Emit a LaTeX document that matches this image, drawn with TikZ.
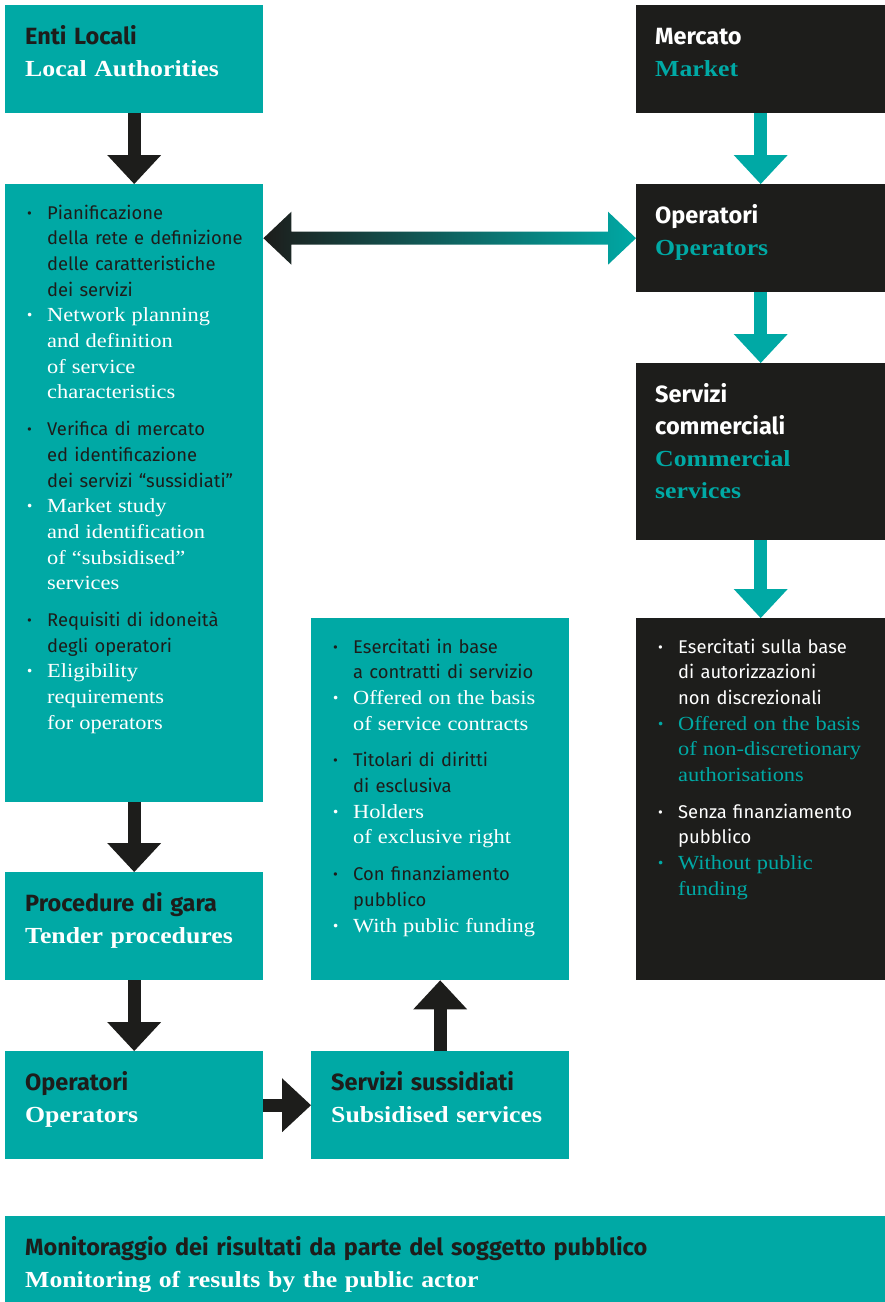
\documentclass[tikz,border=0pt]{standalone}
\usepackage{fontspec}
\setmainfont{Liberation Serif}[FakeStretch=1.12]
\newfontfamily\itf{Fira Sans}
\usetikzlibrary{positioning,arrows.meta}

\definecolor{tl}{HTML}{00A9A5}
\definecolor{ink}{HTML}{1D1D1B}
\definecolor{midg}{HTML}{628583}
\colorlet{itc}{ink}
\colorlet{enc}{white}

% list lines: bullet line / continued line, italian / english
\newcommand\bul{\makebox[20pt][l]{\raisebox{.05em}{\scalebox{.8}{\itf\textbullet}}}}
\newcommand\ib[1]{{\itf\color{itc}\bul#1}}
\newcommand\ic[1]{{\itf\color{itc}\hspace*{20pt}#1}}
\newcommand\eb[1]{{\fontsize{20}{25.7}\selectfont\color{enc}\bul#1}}
\newcommand\ec[1]{{\fontsize{20}{25.7}\selectfont\color{enc}\hspace*{20pt}#1}}
\newcommand\hit[1]{{\itf\bfseries\fontsize{23.5}{32}\selectfont\color{itc}#1}}
\newcommand\het[1]{{\bfseries\color{enc}#1}}

\begin{document}
\begin{tikzpicture}[x=1pt, y=-1pt,
    tealbox/.style={fill=tl, inner sep=0pt, anchor=north west},
    darkbox/.style={fill=ink, inner sep=0pt, anchor=north west},
    headtxt/.style={inner sep=0pt, anchor=base west, text width=250pt, align=left,
        font=\fontsize{23}{32}\selectfont},
    listtxt/.style={inner sep=0pt, anchor=base west, text width=240pt, align=left,
        font=\fontsize{18.4}{25.7}\selectfont},
    ondark/.style={execute at begin node={\colorlet{itc}{white}\colorlet{enc}{tl}}},
    darrow/.style={ink, line width=13pt, -{Triangle[width=54pt,length=29pt,line width=0pt]}},
    tarrow/.style={darrow, tl}
    ]
    \useasboundingbox (0,0) rectangle (885,1302);

    % left column
    \node [tealbox, minimum width=258pt, minimum height=108pt] (enti) at (5,5) {};
    \node [tealbox, minimum width=258pt, minimum height=618pt] (plan) at (5,184) {};
    \node [tealbox, minimum width=258pt, minimum height=108pt] (gara) at (5,872) {};
    \node [tealbox, minimum width=258pt, minimum height=108pt] (opl) at (5,1051) {};

    % middle column
    \node [tealbox, minimum width=258pt, minimum height=362pt] (sub) at (311,618) {};
    \node [tealbox, minimum width=258pt, minimum height=108pt] (sus) at (311,1051) {};

    % right column
    \node [darkbox, minimum width=249pt, minimum height=108pt] (merc) at (636,5) {};
    \node [darkbox, minimum width=249pt, minimum height=108pt] (opr) at (636,184) {};
    \node [darkbox, minimum width=249pt, minimum height=177pt] (comm) at (636,363) {};
    \node [darkbox, minimum width=249pt, minimum height=362pt] (nond) at (636,618) {};

    % bottom bar
    \node [tealbox, minimum width=880pt, minimum height=86pt] (mon) at (5,1216) {};

    % texts
    \node [headtxt] (entiT) at ([shift={(20,39)}]enti.north west)
        {\hit{Enti Locali}\\\het{Local Authorities}};
    \node [headtxt] (garaT) at ([shift={(20,39)}]gara.north west)
        {\hit{Procedure di gara}\\\het{Tender procedures}};
    \node [headtxt] (oplT) at ([shift={(20,39)}]opl.north west)
        {\hit{Operatori}\\\het{Operators}};
    \node [headtxt] (susT) at ([shift={(20,39)}]sus.north west)
        {\hit{Servizi sussidiati}\\\het{Subsidised services}};
    \node [headtxt, ondark] (mercT) at ([shift={(19,39)}]merc.north west)
        {\hit{Mercato}\\\het{Market}};
    \node [headtxt, ondark] (oprT) at ([shift={(19,39)}]opr.north west)
        {\hit{Operatori}\\\het{Operators}};
    \node [headtxt, ondark] (commT) at ([shift={(19,39)}]comm.north west)
        {\hit{Servizi}\\\hit{commerciali}\\\het{Commercial}\\\het{services}};
    \node [headtxt, text width=860pt] (monT) at ([shift={(20,39)}]mon.north west)
        {\hit{Monitoraggio dei risultati da parte del soggetto pubblico}\\\het{Monitoring of results by the public actor}};

    \node [listtxt] (planT) at ([shift={(22,35)}]plan.north west) {%
        \ib{Pianificazione}\\\ic{della rete e definizione}\\\ic{delle caratteristiche}\\\ic{dei servizi}\\
        \eb{Network planning}\\\ec{and definition}\\\ec{of service}\\\ec{characteristics}\\[11pt]
        \ib{Verifica di mercato}\\\ic{ed identificazione}\\\ic{dei servizi “sussidiati”}\\
        \eb{Market study}\\\ec{and identification}\\\ec{of “subsidised”}\\\ec{services}\\[11pt]
        \ib{Requisiti di idoneità}\\\ic{degli operatori}\\
        \eb{Eligibility}\\\ec{requirements}\\\ec{for operators}};
    \node [listtxt] (subT) at ([shift={(22,35)}]sub.north west) {%
        \ib{Esercitati in base}\\\ic{a contratti di servizio}\\
        \eb{Offered on the basis}\\\ec{of service contracts}\\[11pt]
        \ib{Titolari di diritti}\\\ic{di esclusiva}\\
        \eb{Holders}\\\ec{of exclusive right}\\[11pt]
        \ib{Con finanziamento}\\\ic{pubblico}\\
        \eb{With public funding}};
    \node [listtxt, ondark] (nondT) at ([shift={(22,35)}]nond.north west) {%
        \ib{Esercitati sulla base}\\\ic{di autorizzazioni}\\\ic{non discrezionali}\\
        \eb{Offered on the basis}\\\ec{of non-discretionary}\\\ec{authorisations}\\[11pt]
        \ib{Senza finanziamento}\\\ic{pubblico}\\
        \eb{Without public}\\\ec{funding}};

    % arrows
    \draw [darrow] (enti) -- (plan);
    \draw [darrow] (plan) -- (gara);
    \draw [darrow] (gara) -- (opl);
    \draw [darrow] (opl) -- (sus);
    \draw [darrow] (sus) -- (sub);
    \draw [tarrow] (merc) -- (opr);
    \draw [tarrow] (opr) -- (comm);
    \draw [tarrow] (comm) -- (nond);

    \coordinate (hl) at (plan.east |- opr.west);
    \coordinate (hr) at (opr.west);
    \shade [left color=ink, middle color=midg, right color=tl] (hl) -- ++(28,-26.5) -- ++(0,20)
        -- ([shift={(-28,-6.5)}]hr) -- ++(0,-20) -- (hr) -- ++(-28,26.5) -- ++(0,-20)
        -- ([shift={(28,6.5)}]hl) -- ++(0,20) -- cycle;
\end{tikzpicture}
\end{document}
